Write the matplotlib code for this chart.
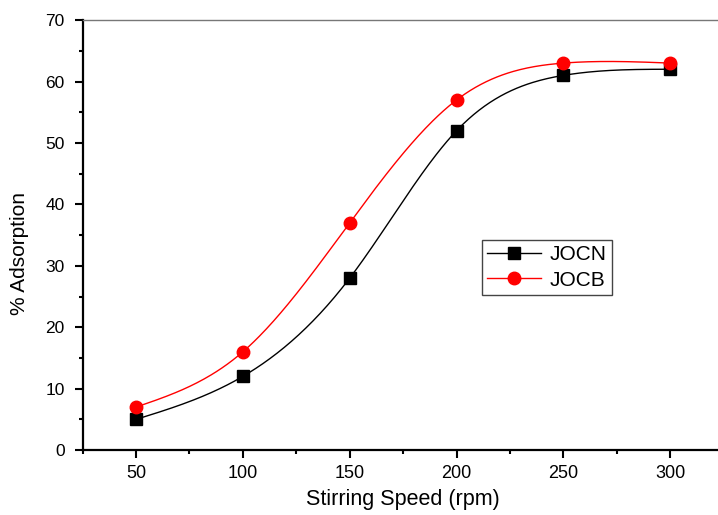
import numpy as np
import matplotlib.pyplot as plt
from matplotlib.ticker import MultipleLocator

speed = [50, 100, 150, 200, 250, 300]
jocn = [5, 12, 28, 52, 61, 62]
jocb = [7, 16, 37, 57, 63, 63]

plt.rcParams['font.family'] = ['Liberation Sans', 'DejaVu Sans']


def natural_spline(x, y, n=300):
    # natural cubic spline, drawn as a smooth line through the points
    x = np.asarray(x, float)
    y = np.asarray(y, float)
    k = len(x)
    h = np.diff(x)
    A = np.zeros((k, k))
    b = np.zeros(k)
    A[0, 0] = A[-1, -1] = 1
    for i in range(1, k - 1):
        A[i, i - 1] = h[i - 1]
        A[i, i] = 2 * (h[i - 1] + h[i])
        A[i, i + 1] = h[i]
        b[i] = 3 * ((y[i + 1] - y[i]) / h[i] - (y[i] - y[i - 1]) / h[i - 1])
    c = np.linalg.solve(A, b)
    xs = np.linspace(x[0], x[-1], n)
    idx = np.clip(np.searchsorted(x, xs) - 1, 0, k - 2)
    dx = xs - x[idx]
    hi = h[idx]
    bi = (y[idx + 1] - y[idx]) / hi - hi * (2 * c[idx] + c[idx + 1]) / 3
    di = (c[idx + 1] - c[idx]) / (3 * hi)
    ys = y[idx] + bi * dx + c[idx] * dx ** 2 + di * dx ** 3
    return xs, ys


fig = plt.figure(figsize=(7.18, 5.15), dpi=100)
ax = fig.add_axes([0.115, 0.126, 0.893, 0.835])

xs, ys = natural_spline(speed, jocn)
ax.plot(xs, ys, color='black', lw=1)
xs, ys = natural_spline(speed, jocb)
ax.plot(xs, ys, color='red', lw=1)
ax.plot(speed, jocn, 's', color='black', ms=8, zorder=3)
ax.plot(speed, jocb, 'o', color='red', ms=9, zorder=3)

# legend proxies
ax.plot([], [], '-s', color='black', ms=8, lw=1, label='JOCN')
ax.plot([], [], '-o', color='red', ms=9, lw=1, label='JOCB')

ax.set_xlim(25, 325)
ax.set_ylim(0, 70)
ax.xaxis.set_major_locator(MultipleLocator(50))
ax.xaxis.set_minor_locator(MultipleLocator(25))
ax.yaxis.set_major_locator(MultipleLocator(10))
ax.yaxis.set_minor_locator(MultipleLocator(5))
ax.tick_params(which='major', direction='out', length=6, width=1.5, color='black')
ax.tick_params(which='minor', direction='out', length=3, width=1.5)
ax.tick_params(axis='x', labelsize=13, pad=5)
ax.tick_params(axis='y', labelsize=12.5, pad=7)

for s in ['left', 'bottom']:
    ax.spines[s].set_linewidth(1.6)
ax.spines['top'].set_color('#777777')
ax.spines['top'].set_linewidth(1)
ax.spines['right'].set_visible(False)

ax.set_xlabel('Stirring Speed (rpm)', fontsize=15.5, labelpad=5)
ax.set_ylabel('% Adsorption', fontsize=15)
ax.yaxis.set_label_coords(-0.083, 0.458)

leg = ax.legend(loc='upper left', bbox_to_anchor=(0.623, 0.488), fontsize=15,
                fancybox=False, edgecolor='#444444', framealpha=1,
                handlelength=2.6, borderpad=0.25, labelspacing=0.3,
                handletextpad=0.4, borderaxespad=0)
leg.get_frame().set_linewidth(1)

plt.savefig('out.png', dpi=100)
